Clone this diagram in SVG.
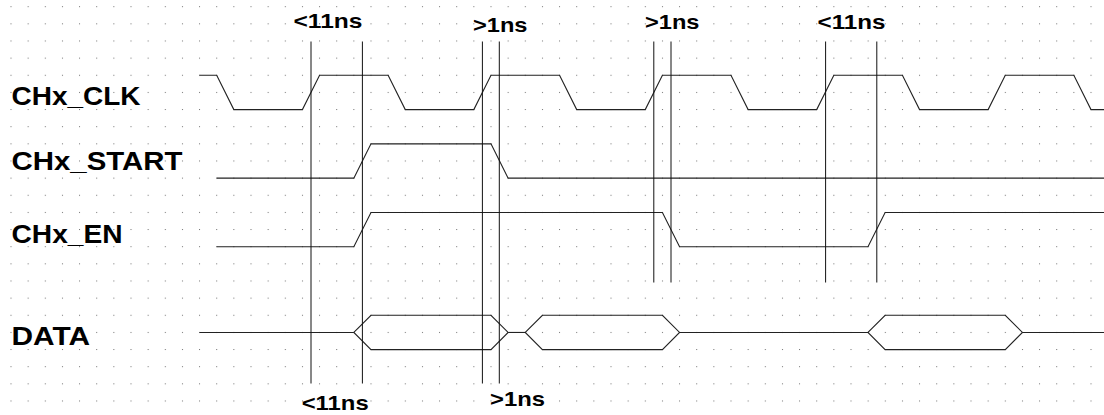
<svg xmlns="http://www.w3.org/2000/svg" width="1104" height="415" viewBox="0 0 1104 415">
<style>
.lbl{font-family:"Liberation Sans",Arial,sans-serif;font-weight:bold;font-size:25px;fill:#000}
.tm{font-family:"Liberation Sans",Arial,sans-serif;font-weight:bold;font-size:21px;fill:#000}
.w{fill:none;stroke:#222;stroke-width:1.1;stroke-linejoin:miter}
.v{stroke:#111;stroke-width:1}
</style>
<defs>
<pattern id="grid" patternUnits="userSpaceOnUse" x="10.5" y="6.2" width="17.143" height="17.143">
<rect x="0" y="0" width="1" height="1" fill="#707070"/>
</pattern>
</defs>
<rect width="1104" height="415" fill="#fff"/>
<rect width="1104" height="415" fill="url(#grid)"/>

<g id="labels">
<text class="lbl" x="11.5" y="105" textLength="129" lengthAdjust="spacingAndGlyphs">CHx_CLK</text>
<text class="lbl" x="11.5" y="170" textLength="171" lengthAdjust="spacingAndGlyphs">CHx_START</text>
<text class="lbl" x="11.5" y="242.5" textLength="111" lengthAdjust="spacingAndGlyphs">CHx_EN</text>
<text class="lbl" x="11.5" y="345" textLength="78.5" lengthAdjust="spacingAndGlyphs">DATA</text>
</g>

<g id="clk">
<polyline class="w" points="199.56,75.3 216.7,75.3 233.84,109.6 302.41,109.6 319.56,75.3 388.13,75.3 405.27,109.6 473.84,109.6 490.99,75.3 559.56,75.3 576.7,109.6 645.27,109.6 662.42,75.3 730.99,75.3 748.13,109.6 816.7,109.6 833.84,75.3 902.42,75.3 919.56,109.6 988.13,109.6 1005.27,75.3 1073.84,75.3 1090.99,109.6 1104,109.6"/>
</g>

<g id="start">
<polyline class="w" points="216.7,178.16 353.84,178.16 370.99,143.87 490.99,143.87 508.13,178.16 1104,178.16"/>
</g>

<g id="en">
<polyline class="w" points="216.7,246.73 353.84,246.73 370.99,212.44 662.42,212.44 679.56,246.73 867.99,246.73 885.13,212.44 1104,212.44"/>
</g>

<g id="data">
<polyline class="w" points="199.56,332.45 353.84,332.45"/>
<polygon class="w" points="353.84,332.45 370.99,315.3 490.99,315.3 508.13,332.45 490.99,349.59 370.99,349.59"/>
<polyline class="w" points="508.13,332.45 525.27,332.45"/>
<polygon class="w" points="525.27,332.45 542.42,315.3 662.42,315.3 679.56,332.45 662.42,349.59 542.42,349.59"/>
<polyline class="w" points="679.56,332.45 867.99,332.45"/>
<polygon class="w" points="867.99,332.45 885.13,315.3 1005.27,315.3 1022.42,332.45 1005.27,349.59 885.13,349.59"/>
<polyline class="w" points="1022.42,332.45 1104,332.45"/>
</g>

<g id="connectors">
<line class="v" x1="311" y1="41.5" x2="311" y2="383.5"/>
<line class="v" x1="362.4" y1="41.5" x2="362.4" y2="383.5"/>
<line class="v" x1="482.4" y1="41.5" x2="482.4" y2="383.5"/>
<line class="v" x1="499.3" y1="41.5" x2="499.3" y2="383.5"/>
<line class="v" x1="653.8" y1="41.5" x2="653.8" y2="282.5"/>
<line class="v" x1="671" y1="41.5" x2="671" y2="282.5"/>
<line class="v" x1="825.6" y1="41.5" x2="825.6" y2="282.5"/>
<line class="v" x1="876.8" y1="41.5" x2="876.8" y2="282.5"/>
</g>

<g id="timings">
<text class="tm" x="293.5" y="28" textLength="69" lengthAdjust="spacingAndGlyphs">&lt;11ns</text>
<text class="tm" x="473" y="31.5" textLength="54.5" lengthAdjust="spacingAndGlyphs">&gt;1ns</text>
<text class="tm" x="645" y="28.5" textLength="54.5" lengthAdjust="spacingAndGlyphs">&gt;1ns</text>
<text class="tm" x="817.5" y="28.5" textLength="68" lengthAdjust="spacingAndGlyphs">&lt;11ns</text>
<text class="tm" x="301.7" y="410" textLength="67" lengthAdjust="spacingAndGlyphs">&lt;11ns</text>
<text class="tm" x="490" y="406" textLength="55" lengthAdjust="spacingAndGlyphs">&gt;1ns</text>
</g>
</svg>
